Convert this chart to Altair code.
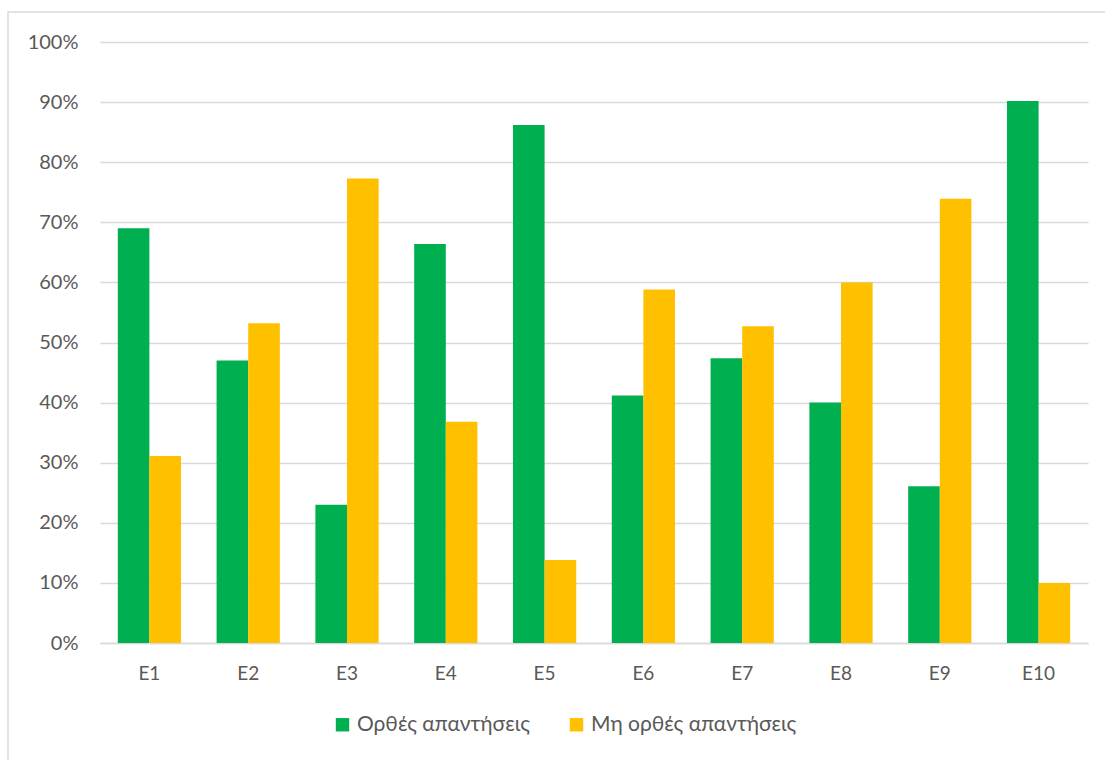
import altair as alt
import pandas as pd

categories = ["E1", "E2", "E3", "E4", "E5", "E6", "E7", "E8", "E9", "E10"]
series_names = ["Ορθές απαντήσεις", "Μη ορθές απαντήσεις"]
correct = [0.69, 0.47, 0.23, 0.664, 0.862, 0.412, 0.474, 0.40, 0.261, 0.902]
incorrect = [0.311, 0.532, 0.773, 0.368, 0.138, 0.588, 0.527, 0.60, 0.739, 0.10]
colors = ["#00B050", "#FFC000"]

rows = []
for c, a, b in zip(categories, correct, incorrect):
    rows.append({"cat": c, "series": series_names[0], "value": a})
    rows.append({"cat": c, "series": series_names[1], "value": b})
df = pd.DataFrame(rows)

FONT = "Lato"
TXT = "#595959"

bars = alt.Chart(df).mark_bar().encode(
    x=alt.X("cat:N", sort=categories, title=None,
            scale=alt.Scale(paddingInner=0.36, paddingOuter=0.18),
            axis=alt.Axis(labelAngle=0, labelFontSize=19, labelColor=TXT, labelFont=FONT,
                          ticks=False, domainColor="#d9d9d9", domainWidth=1.5, labelPadding=21,
                          grid=False)),
    xOffset=alt.XOffset("series:N", sort=series_names),
    y=alt.Y("value:Q", title=None,
            scale=alt.Scale(domain=[0, 1], nice=False),
            axis=alt.Axis(format=".0%", values=[i / 10 for i in range(11)], labelFontSize=20,
                          labelColor=TXT, labelFont=FONT, ticks=False, domain=False,
                          gridColor="#d9d9d9", gridWidth=1.5, labelPadding=22)),
    color=alt.Color("series:N", sort=series_names,
                    scale=alt.Scale(domain=series_names, range=colors),
                    legend=alt.Legend(title=None, orient="none", direction="horizontal",
                                      legendX=232, legendY=672, symbolType="square",
                                      symbolSize=180, symbolStrokeWidth=0, labelFontSize=21,
                                      labelColor=TXT, labelFont=FONT, columnPadding=36,
                                      labelOffset=4, symbolOpacity=1, labelLimit=400)),
)

border = alt.Chart(pd.DataFrame({"a": [0]})).mark_rect(
    fill=None, stroke="#d9d9d9", strokeWidth=1.5
).encode(x=alt.value(-92), x2=alt.value(1030), y=alt.value(-30), y2=alt.value(740))

chart = alt.layer(bars, border).properties(
    width=988, height=601,
    padding={"left": 100, "top": 42, "right": 17, "bottom": 117},
    autosize=alt.AutoSizeParams(type="none"),
    background="white",
).configure_view(stroke=None)

chart.save("out.html", embed_options={"renderer": "svg", "actions": False})
